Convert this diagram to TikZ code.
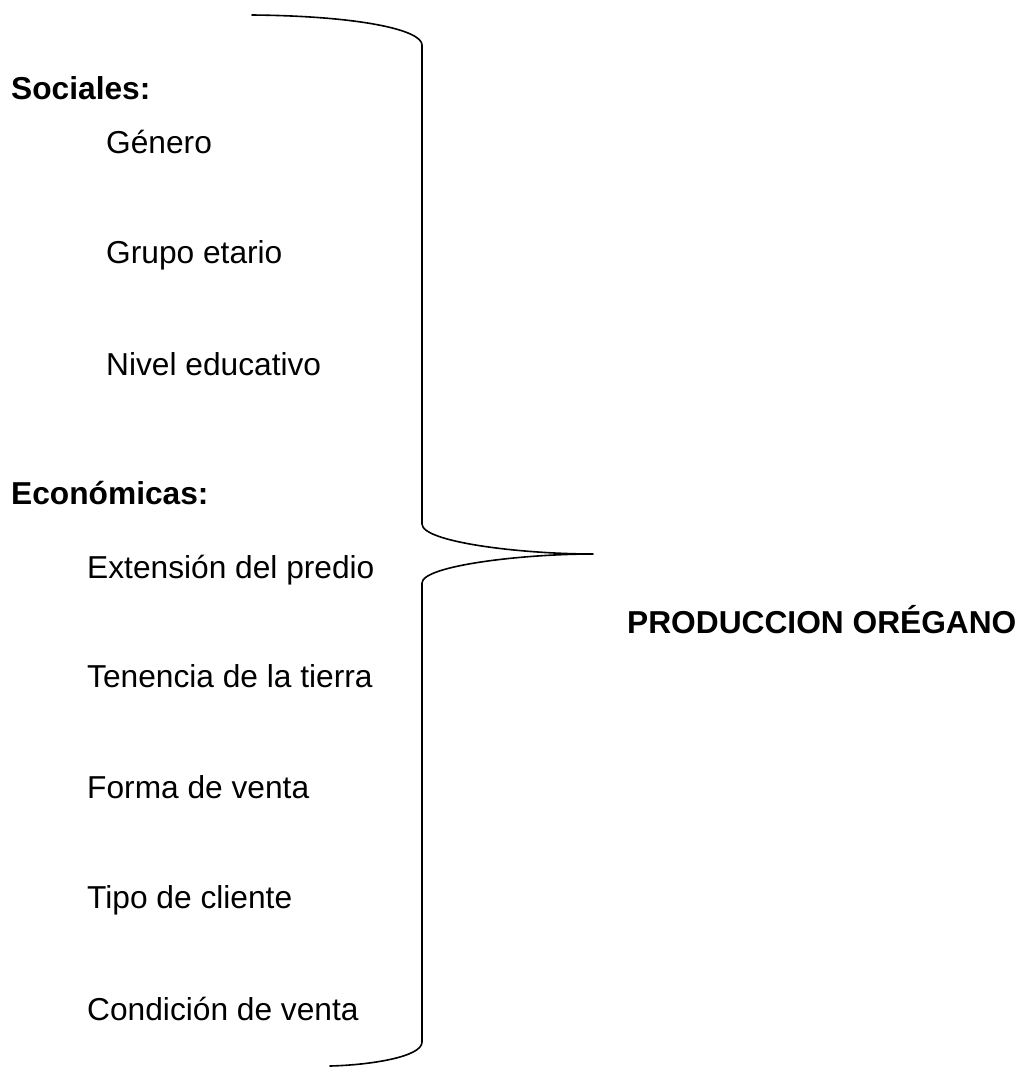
\documentclass[tikz,border=0pt]{standalone}
\usepackage{fontspec}
\setmainfont{Liberation Sans}
\begin{document}
\begin{tikzpicture}[x=1pt,y=-1pt,
  lbl/.style={anchor=base west,inner sep=0pt,font=\fontsize{31.7}{38}\selectfont},
  hdr/.style={lbl,font=\fontsize{31.7}{38}\selectfont\bfseries},
  brace/.style={line width=1.6pt,line join=round,line cap=round}]
\useasboundingbox (0,0) rectangle (1024,1068);
\node[hdr] (soc) at (11,99) {Sociales:};
\node[lbl] (gen) at (106,153) {Género};
\node[lbl] (gru) at (106,263) {Grupo etario};
\node[lbl] (niv) at (106,375) {Nivel educativo};
\node[hdr] (eco) at (11,504) {Económicas:};
\node[lbl] (ext) at (87,578) {Extensión del predio};
\node[lbl] (ten) at (87,687) {Tenencia de la tierra};
\node[lbl] (for) at (87,798) {Forma de venta};
\node[lbl] (tip) at (87,908) {Tipo de cliente};
\node[lbl] (con) at (87,1020) {Condición de venta};
\node[hdr] (prod) at (627,633) {PRODUCCION ORÉGANO};
\coordinate (b0) at (252,15);
\coordinate (b1) at (422,45);
\coordinate (b2) at (422,524);
\coordinate (tipb) at (593,554);
\coordinate (b3) at (422,583);
\coordinate (b4) at (422,1042);
\coordinate (b5) at (330,1066);
\draw[brace] (b0) .. controls (360,16) and (422,30) .. (b1) -- (b2)
  .. controls (422,542) and (520,554) .. (tipb)
  .. controls (520,554) and (422,566) .. (b3) -- (b4)
  .. controls (422,1057) and (370,1065) .. (b5);
\end{tikzpicture}
\end{document}
